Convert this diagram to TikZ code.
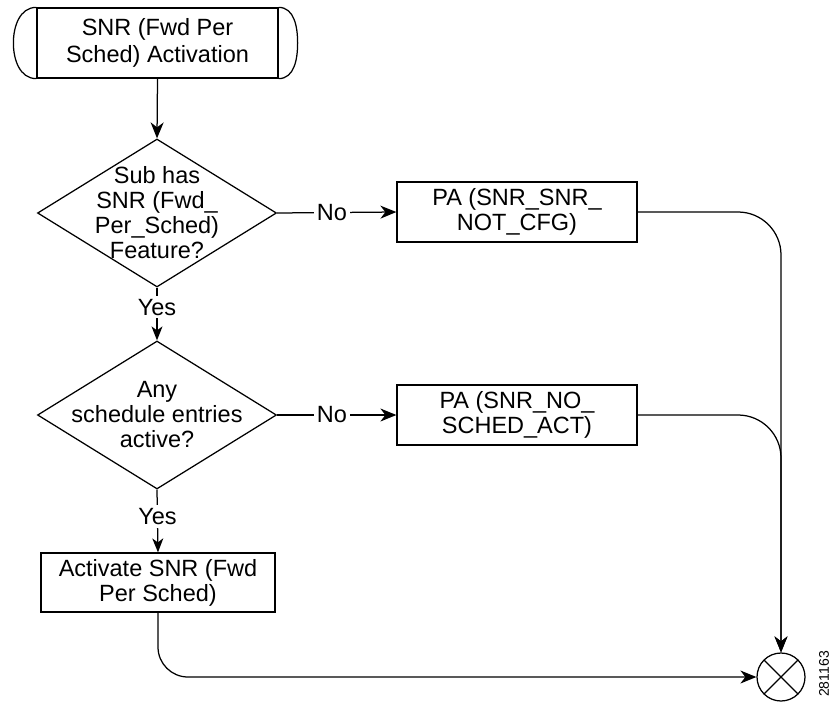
\documentclass[tikz,border=0pt]{standalone}
\usepackage{fontspec}
\setmainfont{Liberation Sans}
\usetikzlibrary{arrows.meta,shapes.geometric,calc}
\begin{document}
\begin{tikzpicture}[x=1pt,y=1pt,
  line width=1.25pt,
  every node/.style={font=\fontsize{23.5}{25}\selectfont},
  box/.style={draw,rectangle,inner sep=0pt,align=center},
  dec/.style={draw,diamond,inner sep=0pt,minimum width=239pt,minimum height=148pt},
  lbl/.style={fill=white,inner sep=3pt},
  arr/.style={-{Stealth[length=16pt,width=13pt,inset=5pt]}},
  sarr/.style={-{Stealth[length=14pt,width=11pt,inset=4pt]}}
]
\useasboundingbox (0,0) rectangle (832,-704);

% start terminator
\node[box,minimum width=241pt,minimum height=70pt,font=\fontsize{23.5}{27}\selectfont] (start) at (157.5,-43) {SNR (Fwd Per\\Sched) Activation};
\draw (start.north west) to[out=180,in=90] ($(start.west)+(-23,0)$) to[out=-90,in=180] (start.south west);
\draw (start.north east) to[out=0,in=90] ($(start.east)+(19,0)$) to[out=-90,in=0] (start.south east);

% decisions
\node[dec] (d1) at (157,-213) {};
\node[align=center] (d1t) at (d1.center) {Sub has\\SNR (Fwd\_\\Per\_Sched)\\Feature?};
\node[dec] (d2) at (157,-415) {};
\node[align=center] (d2t) at (d2.center) {Any\\schedule entries\\active?};

% boxes
\node[box,minimum width=240pt,minimum height=60pt] (pa1) at (517,-212) {PA (SNR\_SNR\_\\NOT\_CFG)};
\node[box,minimum width=240pt,minimum height=60pt] (pa2) at (517,-415) {PA (SNR\_NO\_\\SCHED\_ACT)};
\node[box,minimum width=234pt,minimum height=59pt] (act) at (158,-582.5) {Activate SNR (Fwd\\Per Sched)};

% junction
\node[draw,circle,minimum size=48pt,inner sep=0pt,
  path picture={\draw (path picture bounding box.north west) -- (path picture bounding box.south east)
                      (path picture bounding box.north east) -- (path picture bounding box.south west);}]
  (x) at (781,-677) {};
\node[rotate=90,inner sep=0pt,font=\fontsize{14}{14}\selectfont] (fig) at (824,-674) {281163};

% connectors
\draw[arr] (start.south) -- (d1.north);
\draw[arr] (d1.east) -- node[lbl,pos=0.46] {No} (pa1.west);
\draw[arr] (d2.east) -- node[lbl,pos=0.46] {No} (pa2.west);
\draw[sarr] (d1.south) -- node[lbl,pos=0.37] {Yes} (d2.north);
\draw[sarr] (d2.south) -- node[lbl,pos=0.43] {Yes} (act.north);
\draw[arr,rounded corners=43pt] (pa1.east) -| (x.north);
\draw[arr,rounded corners=43pt] (pa2.east) -| (x.north);
\draw[arr,rounded corners=30pt] (act.south) |- (x.west);
\end{tikzpicture}
\end{document}
